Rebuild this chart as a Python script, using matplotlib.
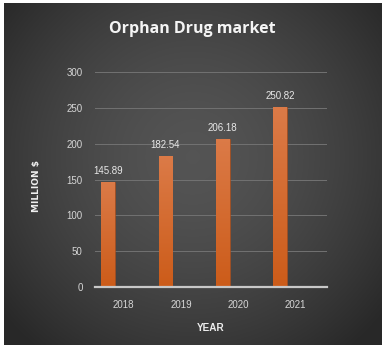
import numpy as np
import matplotlib
matplotlib.use("Agg")
import matplotlib.pyplot as plt

# data
years = ["2018", "2019", "2020", "2021"]
market = [145.89, 182.54, 206.18, 250.82]
# two near-zero extra series visible only as thin slivers at 2018
extra_a = [0.8, 0, 0, 0]
extra_b = [0.8, 0, 0, 0]

narrow = ["Liberation Sans", "DejaVu Sans"]

fig = plt.figure(figsize=(3.85, 3.52), dpi=100, facecolor="white")

# ── radial gradient background panel ─────────────────────────────────────────
bg = fig.add_axes([4 / 385, 7 / 352, 378 / 385, 342 / 352])
yy, xx = np.mgrid[0:1:200j, 0:1:220j]
r = np.sqrt(((xx - 0.5) / 0.72) ** 2 + ((yy - 0.45) / 0.8) ** 2)
shade = np.clip(0.33 - 0.2 * r ** 1.6, 0.16, 0.33)
bg.imshow(np.dstack([shade, shade, shade]), aspect="auto", extent=[0, 1, 0, 1],
          interpolation="bicubic")
bg.set_axis_off()

# ── main chart ───────────────────────────────────────────────────────────────
ax = fig.add_axes([95 / 385, 65 / 352, 232 / 385, 215 / 352])
ax.patch.set_alpha(0)
x = np.arange(len(years))
w = 0.24

bars = ax.bar(x - 0.27, market, width=w, color="#d2672b",
              edgecolor="#a84a18", linewidth=0.4, zorder=3)
ax.bar(x, extra_a, width=w, color="#e6e6e6", zorder=3)
ax.bar(x + w, extra_b, width=w, color="#d9d9d9", zorder=3)

# vertical gradient on the main bars
grad = np.linspace(0, 1, 100).reshape(-1, 1)
cols = np.zeros((100, 1, 3))
top = np.array([0.86, 0.48, 0.28])
bot = np.array([0.80, 0.36, 0.10])
cols[:, 0, :] = bot + (top - bot) * grad
for b in bars:
    im = ax.imshow(cols, origin="lower", aspect="auto", zorder=3.5,
                   extent=[b.get_x(), b.get_x() + b.get_width(), 0, b.get_height()])
    im.set_clip_path(b)

for xi, v in zip(x, market):
    ax.text(xi - 0.27, v + 9, f"{v:.2f}", ha="center", va="bottom",
            color="#e8e8e8", fontsize=7, family=narrow)

ax.set_xlim(-0.5, 3.55)
ax.set_ylim(0, 300)
ax.set_yticks(range(0, 301, 50))
ax.set_xticks(x)
ax.set_xticklabels(years)
ax.grid(axis="y", color="#727272", linewidth=0.7, zorder=0)
for s in ["top", "right", "left"]:
    ax.spines[s].set_visible(False)
ax.spines["bottom"].set_color("#c8c8c8")
ax.spines["bottom"].set_linewidth(1.6)
ax.spines["bottom"].set_zorder(4)
ax.tick_params(length=0, colors="#d6d6d6", labelsize=7, pad=9)
for t in ax.get_xticklabels() + ax.get_yticklabels():
    t.set_family(narrow)

ax.set_xlabel("YEAR", color="#ececec", fontsize=7.2, family=narrow,
              fontweight="bold", labelpad=10)
fig.text(36 / 385, 1 - 186 / 352, "MILLION $", rotation=90, ha="center",
         va="center", color="#f0f0f0", fontsize=6.5, fontweight="bold")

fig.text(0.5, 1 - 29 / 352, "Orphan Drug market", ha="center", va="center",
         color="#f4f4f4", fontsize=11.5, fontweight="bold", family="Open Sans")

fig.savefig("out.png", dpi=100, facecolor="white")
